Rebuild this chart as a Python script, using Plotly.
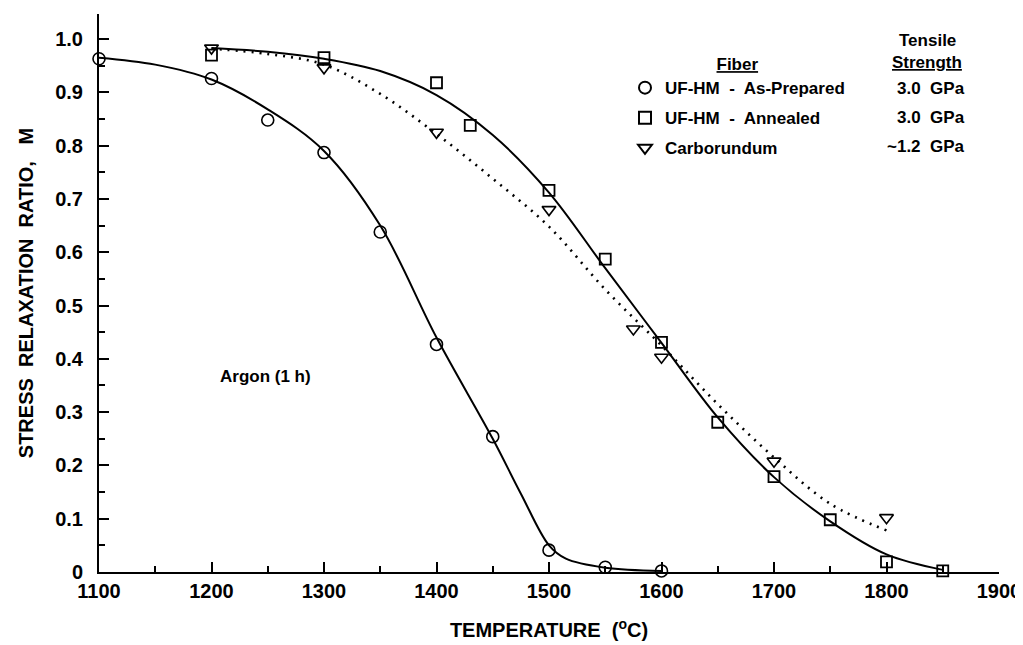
import plotly.graph_objects as go

# ---- measured data points ----
T_prep = [1100, 1200, 1250, 1300, 1350, 1400, 1450, 1500, 1550, 1600]
M_prep = [0.963, 0.926, 0.848, 0.787, 0.638, 0.427, 0.254, 0.041, 0.009, 0.002]

T_ann = [1200, 1300, 1400, 1430, 1500, 1550, 1600, 1650, 1700, 1750, 1800, 1850]
M_ann = [0.970, 0.965, 0.918, 0.838, 0.716, 0.587, 0.431, 0.281, 0.179, 0.098, 0.019, 0.002]

T_carb = [1200, 1300, 1400, 1500, 1575, 1600, 1700, 1800]
M_carb = [0.983, 0.946, 0.825, 0.680, 0.456, 0.403, 0.208, 0.102]

# ---- fitted curves ----
Tc_prep = [1100, 1150, 1200, 1250, 1300, 1350, 1400, 1450, 1475, 1500, 1515, 1550, 1600]
Mc_prep = [0.965, 0.952, 0.924, 0.868, 0.790, 0.650, 0.440, 0.250, 0.147, 0.050, 0.025, 0.008, 0.002]

Tc_ann = [1200, 1250, 1300, 1350, 1400, 1450, 1500, 1550, 1600, 1650, 1700, 1750, 1800, 1850]
Mc_ann = [0.983, 0.976, 0.963, 0.940, 0.895, 0.820, 0.712, 0.570, 0.430, 0.290, 0.178, 0.095, 0.033, 0.004]

Tc_carb = [1200, 1250, 1300, 1350, 1400, 1450, 1500, 1550, 1600, 1650, 1700, 1750, 1800]
Mc_carb = [0.982, 0.972, 0.952, 0.897, 0.822, 0.738, 0.648, 0.530, 0.425, 0.315, 0.215, 0.128, 0.078]

names = ["UF-HM  -  As-Prepared", "UF-HM  -  Annealed", "Carborundum"]
strengths = ["3.0  GPa", "3.0  GPa", "~1.2  GPa"]

x_ticks = [1100, 1200, 1300, 1400, 1500, 1600, 1700, 1800, 1900]
y_ticks = [0, 0.1, 0.2, 0.3, 0.4, 0.5, 0.6, 0.7, 0.8, 0.9, 1.0]
y_ticktext = ["0", "0.1", "0.2", "0.3", "0.4", "0.5", "0.6", "0.7", "0.8", "0.9", "1.0"]

FONT = "Liberation Sans, Arial, Helvetica, sans-serif"
BLACK = "black"

# page places the figure 8px in from the top-left corner
OFF = 8
PL, PT, PW, PH = 99 - OFF, 14 - OFF, 900, 558   # plot area (left, top, width, height) in figure px
FIG_W, FIG_H = 1023 - OFF, 645 - OFF


def px_x(px):
    return (px - 99) / PW


def px_y(py):
    return (572 - py) / PH


fig = go.Figure()

# curves
fig.add_trace(go.Scatter(x=Tc_prep, y=Mc_prep, mode="lines", line=dict(color=BLACK, width=2, shape="spline", smoothing=1.0),
                         showlegend=False, hoverinfo="skip", cliponaxis=False))
fig.add_trace(go.Scatter(x=Tc_ann, y=Mc_ann, mode="lines", line=dict(color=BLACK, width=2, shape="spline", smoothing=1.0),
                         showlegend=False, hoverinfo="skip", cliponaxis=False))
fig.add_trace(go.Scatter(x=Tc_carb, y=Mc_carb, mode="lines", line=dict(color=BLACK, width=2.6, shape="spline", smoothing=1.0, dash="2px,6px"),
                         showlegend=False, hoverinfo="skip", cliponaxis=False))

# markers
fig.add_trace(go.Scatter(x=T_prep, y=M_prep, mode="markers", name="<b>" + names[0] + "</b>", legendgroup="a",
                         marker=dict(symbol="circle-open", size=12, color=BLACK, line=dict(width=1.6, color=BLACK)),
                         cliponaxis=False))
fig.add_trace(go.Scatter(x=T_ann, y=M_ann, mode="markers", name="<b>" + names[1] + "</b>", legendgroup="b",
                         marker=dict(symbol="square-open", size=11, color=BLACK, line=dict(width=1.8, color=BLACK)),
                         cliponaxis=False))
fig.add_trace(go.Scatter(x=T_carb, y=M_carb, mode="markers", name="<b>" + names[2] + "</b>", legendgroup="c",
                         marker=dict(symbol="triangle-down-open", size=12, color=BLACK, line=dict(width=1.6, color=BLACK)),
                         cliponaxis=False))

annotations = [
    dict(text="<b>Tensile</b>", xref="paper", yref="paper", x=px_x(927), y=px_y(41),
         showarrow=False, xanchor="center", yanchor="middle", font=dict(size=17, family=FONT, color=BLACK)),
    dict(text="<b><u>Strength</u></b>", xref="paper", yref="paper", x=px_x(927), y=px_y(62),
         showarrow=False, xanchor="center", yanchor="middle", font=dict(size=17, family=FONT, color=BLACK)),
    dict(text="<b>Argon (1 h)</b>", xref="x", yref="y", x=1248, y=0.366,
         showarrow=False, xanchor="center", yanchor="middle", font=dict(size=17, family=FONT, color=BLACK)),
]
row_y = [88, 118, 147]
for s, ry in zip(strengths, row_y):
    annotations.append(dict(text="<b>" + s + "</b>", xref="paper", yref="paper", x=px_x(967), y=px_y(ry),
                            showarrow=False, xanchor="right", yanchor="middle",
                            font=dict(size=17, family=FONT, color=BLACK)))

fig.update_layout(
    width=FIG_W, height=FIG_H,
    margin=dict(l=PL, r=FIG_W - PL - PW, t=PT, b=FIG_H - PT - PH, autoexpand=False),
    plot_bgcolor="white", paper_bgcolor="white",
    font=dict(family=FONT, color=BLACK, size=17),
    showlegend=True,
    legend=dict(
        x=px_x(625), y=px_y(48), xanchor="left", yanchor="top",
        bgcolor="rgba(0,0,0,0)", borderwidth=0,
        font=dict(size=17, family=FONT, color=BLACK),
        title=dict(text="<b><u>Fiber</u></b>", side="top center", font=dict(size=17, family=FONT, color=BLACK)),
        itemsizing="constant", tracegroupgap=5,
    ),
    annotations=annotations,
    xaxis=dict(
        range=[1100, 1900], showline=True, linecolor=BLACK, linewidth=2, mirror=False,
        showgrid=False, zeroline=False, automargin=False,
        tickmode="array", tickvals=x_ticks, ticktext=[str(v) for v in x_ticks],
        ticks="inside", ticklen=10, tickwidth=1.6, tickcolor=BLACK,
        minor=dict(dtick=50, tick0=1100, ticks="inside", ticklen=6, tickwidth=1.6, tickcolor=BLACK, showgrid=False),
        tickfont=dict(size=20, family=FONT, color=BLACK, weight="bold"),
        ticklabelstandoff=0,
        title=dict(text="<b>TEMPERATURE  (<sup>o</sup>C)</b>", font=dict(size=20, family=FONT, color=BLACK), standoff=22),
    ),
    yaxis=dict(
        range=[0, 1.047], showline=True, linecolor=BLACK, linewidth=2, mirror=False,
        showgrid=False, zeroline=False, automargin=False,
        tickmode="array", tickvals=y_ticks, ticktext=y_ticktext,
        ticks="inside", ticklen=10, tickwidth=1.6, tickcolor=BLACK,
        minor=dict(dtick=0.05, tick0=0, ticks="inside", ticklen=6, tickwidth=1.6, tickcolor=BLACK, showgrid=False),
        tickfont=dict(size=20, family=FONT, color=BLACK, weight="bold"),
        ticklabelstandoff=10,
        title=dict(text="<b>STRESS  RELAXATION  RATIO,   M</b>", font=dict(size=20, family=FONT, color=BLACK), standoff=16),
    ),
)

fig.write_html("out.html")
